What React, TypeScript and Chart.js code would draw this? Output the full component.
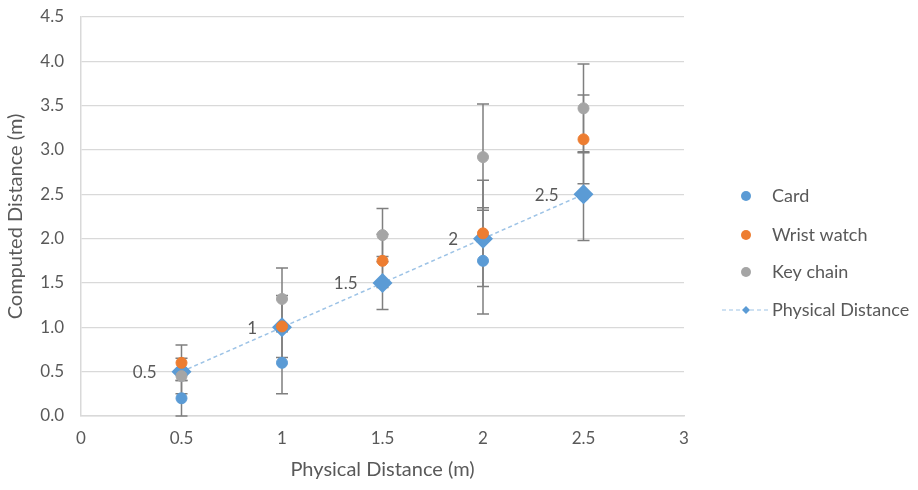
import React, { useEffect, useRef } from "react";
import { Chart, registerables } from "chart.js";

Chart.register(...registerables);

const xValues = [0.5, 1, 1.5, 2, 2.5];
const cardValues = [0.2, 0.6, 1.5, 1.75, 2.48];
const wristValues = [0.6, 1.01, 1.75, 2.06, 3.12];
const keyValues = [0.45, 1.32, 2.04, 2.92, 3.47];
const physicalValues = [0.5, 1, 1.5, 2, 2.5];
const cardErrors = [0.2, 0.35, 0.3, 0.6, 0.5];
const wristErrors = [0.2, 0.35, 0.3, 0.6, 0.5];
const keyErrors = [0.2, 0.35, 0.3, 0.6, 0.5];
const physicalLabels = ["0.5", "1", "1.5", "2", "2.5"];
const seriesNames = ["Card", "Wrist watch", "Key chain", "Physical Distance"];
const xTickLabels = ["0", "0.5", "1", "1.5", "2", "2.5", "3"];
const yTickLabels = ["0.0", "0.5", "1.0", "1.5", "2.0", "2.5", "3.0", "3.5", "4.0", "4.5"];
const xTitle = "Physical Distance (m)";
const yTitle = "Computed Distance (m)";

const FONT = "Lato, 'Open Sans', sans-serif";
const TEXT = "#595959";
const BLUE = "#5B9BD5";
const ORANGE = "#ED7D31";
const GRAY = "#A5A5A5";
const LIGHTBLUE = "#9DC3E6";

const pts = (vals: number[]) => xValues.map((x, i) => ({ x, y: vals[i] }));

const errorBarPlugin = {
  id: "errorBars",
  beforeDatasetsDraw(chart: any) {
    const { ctx, scales } = chart;
    const xs = scales.x;
    const ys = scales.y;
    ctx.save();
    ctx.strokeStyle = "#7F7F7F";
    ctx.lineWidth = 1.5;
    chart.data.datasets.forEach((ds: any) => {
      if (!ds.errors) return;
      ds.data.forEach((p: any, i: number) => {
        const e = ds.errors[i];
        const px = xs.getPixelForValue(p.x);
        const top = ys.getPixelForValue(p.y + e);
        const bot = ys.getPixelForValue(Math.max(0, p.y - e));
        ctx.beginPath();
        ctx.moveTo(px, top);
        ctx.lineTo(px, bot);
        ctx.moveTo(px - 6, top);
        ctx.lineTo(px + 6, top);
        ctx.moveTo(px - 6, bot);
        ctx.lineTo(px + 6, bot);
        ctx.stroke();
      });
    });
    ctx.restore();
  },
};

const labelPlugin = {
  id: "physLabels",
  afterDatasetsDraw(chart: any) {
    const { ctx, scales } = chart;
    ctx.save();
    ctx.font = `17px ${FONT}`;
    ctx.fillStyle = TEXT;
    ctx.textAlign = "right";
    ctx.textBaseline = "middle";
    xValues.forEach((x, i) => {
      const px = scales.x.getPixelForValue(x);
      const py = scales.y.getPixelForValue(physicalValues[i]);
      ctx.fillText(physicalLabels[i], px - 25, py + 1);
    });
    ctx.restore();
  },
};

const legendPlugin = {
  id: "customLegend",
  afterDraw(chart: any) {
    const { ctx } = chart;
    const colors = [BLUE, ORANGE, GRAY];
    const ys = [196, 235, 272, 310];
    const symX = 746;
    const textX = 772;
    ctx.save();
    ctx.font = `18px ${FONT}`;
    ctx.textBaseline = "middle";
    ctx.textAlign = "left";
    seriesNames.forEach((name, i) => {
      const y = ys[i];
      if (i < 3) {
        ctx.fillStyle = colors[i];
        ctx.beginPath();
        ctx.arc(symX, y, 5, 0, Math.PI * 2);
        ctx.fill();
      } else {
        ctx.strokeStyle = LIGHTBLUE;
        ctx.lineWidth = 1.2;
        ctx.setLineDash([4, 3]);
        ctx.beginPath();
        ctx.moveTo(722, y);
        ctx.lineTo(770, y);
        ctx.stroke();
        ctx.setLineDash([]);
        ctx.fillStyle = BLUE;
        ctx.beginPath();
        ctx.moveTo(symX, y - 4);
        ctx.lineTo(symX + 4, y);
        ctx.lineTo(symX, y + 4);
        ctx.lineTo(symX - 4, y);
        ctx.closePath();
        ctx.fill();
      }
      ctx.fillStyle = TEXT;
      ctx.fillText(name, textX, y);
    });
    ctx.restore();
  },
};

export default function App() {
  const ref = useRef<HTMLCanvasElement | null>(null);
  useEffect(() => {
    if (!ref.current) return;
    const chart = new Chart(ref.current, {
      type: "scatter",
      data: {
        datasets: [
          {
            label: seriesNames[0],
            data: pts(cardValues),
            errors: cardErrors,
            backgroundColor: BLUE,
            borderColor: BLUE,
            pointRadius: 5.5,
            order: 3,
          } as any,
          {
            label: seriesNames[1],
            data: pts(wristValues),
            errors: wristErrors,
            backgroundColor: ORANGE,
            borderColor: ORANGE,
            pointRadius: 5.5,
            order: 1,
          } as any,
          {
            label: seriesNames[2],
            data: pts(keyValues),
            errors: keyErrors,
            backgroundColor: GRAY,
            borderColor: GRAY,
            pointRadius: 5.5,
            order: 0,
          } as any,
          {
            label: seriesNames[3],
            data: pts(physicalValues),
            showLine: true,
            borderColor: LIGHTBLUE,
            borderWidth: 1.5,
            borderDash: [4, 3],
            pointStyle: "rectRot",
            pointRadius: 10,
            pointBackgroundColor: BLUE,
            pointBorderColor: BLUE,
            pointBorderWidth: 0,
            order: 2,
          } as any,
        ],
      },
      options: {
        animation: false,
        responsive: true,
        maintainAspectRatio: false,
        layout: { padding: { top: 17, right: 234, bottom: 0, left: 0 } },
        plugins: {
          legend: { display: false },
          tooltip: { enabled: false },
        },
        scales: {
          x: {
            type: "linear",
            min: 0,
            max: 3,
            afterFit: (s: any) => {
              s.height = 74;
              s.paddingLeft = 0;
              s.paddingRight = 0;
            },
            afterBuildTicks: (s: any) => {
              s.ticks = xTickLabels.map((t) => ({ value: parseFloat(t) }));
            },
            ticks: {
              padding: 12,
              color: TEXT,
              font: { family: FONT, size: 17 },
              callback: (v: any, i: number) => xTickLabels[i],
              maxRotation: 0,
            },
            grid: { display: false, drawTicks: false },
            border: { display: true, color: "#D9D9D9", width: 1.5 },
            title: {
              display: true,
              text: xTitle,
              color: TEXT,
              font: { family: FONT, size: 20 },
              padding: { top: 0, bottom: 8 },
            },
          },
          y: {
            type: "linear",
            min: 0,
            max: 4.5,
            afterFit: (s: any) => {
              s.width = 81;
              s.paddingTop = 0;
              s.paddingBottom = 0;
            },
            afterBuildTicks: (s: any) => {
              s.ticks = yTickLabels.map((t) => ({ value: parseFloat(t) }));
            },
            ticks: {
              padding: 17,
              color: TEXT,
              font: { family: FONT, size: 17 },
              callback: (v: any, i: number) => yTickLabels[i],
            },
            grid: { color: "#D9D9D9", lineWidth: 1.2, drawTicks: false },
            border: { display: true, color: "#D9D9D9", width: 1.5 },
            title: {
              display: true,
              text: yTitle,
              color: TEXT,
              font: { family: FONT, size: 20 },
              padding: { top: 4, bottom: 0 },
            },
          },
        },
      },
      plugins: [errorBarPlugin, labelPlugin, legendPlugin],
    });
    return () => chart.destroy();
  }, []);
  return (
    <div style={{ position: "fixed", left: 0, top: 0, width: 918, height: 490, background: "#fff" }}>
      <canvas ref={ref} />
    </div>
  );
}
